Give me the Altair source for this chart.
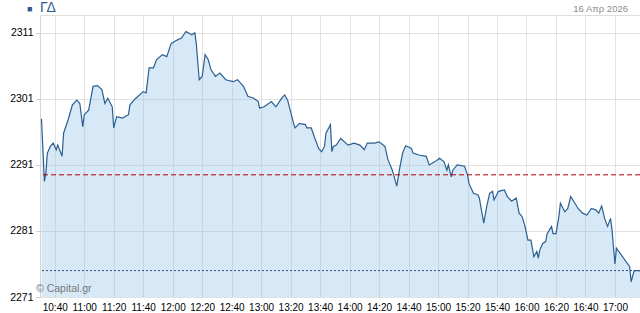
import altair as alt
import pandas as pd

times = ["10:31","10:33","10:34","10:35","10:37","10:39","10:41","10:42","10:45","10:46",
         "10:49","10:52","10:55","10:57","10:59","11:00","11:03","11:06","11:09","11:12",
         "11:14","11:16","11:19","11:20","11:22","11:26","11:30","11:31","11:35","11:40",
         "11:42","11:44","11:47","11:49","11:53","11:56","11:59","12:03","12:06","12:09",
         "12:13","12:15","12:16","12:18","12:20","12:22","12:24","12:26","12:29","12:32",
         "12:36","12:41","12:44","12:48","12:51","12:55","12:58","12:59","13:02","13:07",
         "13:10","13:14","13:16","13:18","13:22","13:23","13:26","13:30","13:31","13:34",
         "13:36","13:39","13:41","13:43","13:44","13:47","13:48","13:49","13:51","13:54",
         "13:59","14:03","14:07","14:10","14:12","14:17","14:20","14:24","14:26","14:29",
         "14:32","14:34","14:36","14:38","14:42","14:43","14:47","14:52","14:54","14:58",
         "15:01","15:04","15:06","15:07","15:09","15:10","15:13","15:18","15:20","15:21",
         "15:24","15:27","15:28","15:31","15:33","15:35","15:37","15:38","15:41","15:45",
         "15:47","15:50","15:53","15:55","15:57","15:59","16:01","16:03","16:05","16:07",
         "16:08","16:09","16:11","16:13","16:14","16:17","16:18","16:20","16:22","16:23",
         "16:26","16:28","16:30","16:32","16:35","16:38","16:41","16:44","16:47","16:49",
         "16:51","16:53","16:55","16:57","16:58","17:00","17:01","17:10","17:11","17:13",
         "17:17"]
values = [2298.0,2288.5,2289.8,2292.8,2293.8,2294.3,2293.3,2294.0,2292.3,2295.8,
          2297.8,2300.1,2300.8,2300.3,2296.8,2298.6,2299.3,2302.9,2303.0,2302.4,
          2300.3,2301.1,2299.8,2296.6,2298.3,2298.1,2298.6,2300.1,2301.1,2302.1,
          2301.9,2305.7,2305.7,2306.9,2307.7,2307.4,2309.4,2309.9,2310.2,2311.2,
          2310.7,2311.0,2309.4,2303.9,2304.4,2307.7,2307.0,2305.4,2304.4,2304.9,
          2303.9,2303.6,2303.9,2302.9,2301.4,2301.1,2300.6,2299.6,2299.8,2300.6,
          2299.8,2301.1,2301.6,2300.8,2297.3,2296.6,2297.3,2297.1,2296.6,2296.6,
          2295.3,2293.5,2293.0,2293.8,2295.8,2297.1,2293.0,2293.8,2294.0,2295.0,
          2294.0,2294.3,2294.0,2293.3,2294.3,2294.3,2294.5,2293.8,2291.8,2290.2,
          2287.8,2290.5,2292.8,2293.9,2293.5,2292.8,2292.5,2292.3,2291.0,2291.5,
          2292.0,2291.5,2290.2,2291.0,2289.2,2290.2,2291.0,2290.8,2289.5,2288.2,
          2286.7,2286.5,2286.0,2282.2,2284.7,2286.7,2287.0,2285.7,2287.0,2287.2,
          2286.2,2285.5,2286.0,2283.7,2283.2,2281.7,2279.6,2279.6,2277.1,2277.9,
          2276.9,2278.1,2279.1,2279.4,2280.6,2281.7,2280.6,2280.6,2283.2,2285.2,
          2283.9,2284.4,2286.2,2285.5,2284.4,2283.7,2283.4,2284.4,2284.2,2283.7,
          2284.8,2282.9,2281.7,2282.9,2281.2,2276.0,2278.4,2275.6,2273.3,2275.0,
          2275.0]

prev_close = 2289.5
last_value = 2275.0
y_ticks = [2271, 2281, 2291, 2301, 2311]
x_tick_labels = ["10:40","11:00","11:20","11:40","12:00","12:20","12:40","13:00","13:20",
                 "13:40","14:00","14:20","14:40","15:00","15:20","15:40","16:00","16:20",
                 "16:40","17:00"]
title_text = "ΓΔ"
date_text = "16 Απρ 2026"
credit_text = "© Capital.gr"


def to_min(t):
    h, m = t.split(":")
    return int(h) * 60 + int(m)


df = pd.DataFrame({"t": [to_min(t) for t in times], "v": values})
x_ticks = [to_min(t) for t in x_tick_labels]

FONT = "Liberation Sans"
x_scale = alt.Scale(domain=[630, 1037], nice=False, zero=False)
y_scale = alt.Scale(domain=[2271, 2313.7], nice=False, zero=False)

label_expr = ("floor(datum.value/60) + ':' + ((datum.value % 60) < 10 ? '0' : '') + (datum.value % 60)")

x_axis = alt.Axis(values=x_ticks, labelExpr=label_expr, title=None, grid=True,
                  gridColor="#e2e2e2", ticks=False, domain=False,
                  labelFont=FONT, labelFontSize=10, labelColor="#000",
                  labelPadding=5, labelFlush=False, labelOverlap=False, labelBound=False)
y_axis = alt.Axis(values=y_ticks, format="d", title=None, grid=True,
                  gridColor="#e2e2e2",
                  tickSize=4, tickColor="#cccccc", domainColor="#d6d6d6",
                  labelFont=FONT, labelFontSize=10.5, labelColor="#000",
                  labelPadding=3, labelOverlap=False)

x_enc = alt.X("t:Q", scale=x_scale, axis=x_axis)
y_enc = alt.Y("v:Q", scale=y_scale, axis=y_axis)

area = alt.Chart(df).mark_area(color="#91c1e8", opacity=0.36, clip=True).encode(
    x=x_enc, y=y_enc, y2=alt.datum(2271))
line = alt.Chart(df).mark_line(color="#2b5f91", strokeWidth=1.2, clip=True).encode(
    x=x_enc, y=y_enc)

ref_df = pd.DataFrame({"prev": [prev_close], "last": [last_value]})
prev_rule = alt.Chart(ref_df).mark_rule(color="#b00000", strokeWidth=1, strokeDash=[5, 3]).encode(
    y=alt.Y("prev:Q", scale=y_scale, axis=y_axis))
last_rule = alt.Chart(ref_df).mark_rule(color="#2b4f7f", strokeWidth=1, strokeDash=[2, 2]).encode(
    y=alt.Y("last:Q", scale=y_scale, axis=y_axis))

lbl_df = pd.DataFrame({"title": [title_text], "date": [date_text], "credit": [credit_text],
                       "sq": ["■"]})
sq = alt.Chart(lbl_df).mark_text(font=FONT, fontSize=9, color="#2f5b8f", align="left",
                                  baseline="middle").encode(
    text="sq:N", x=alt.value(-13), y=alt.value(-6))
ttl = alt.Chart(lbl_df).mark_text(font=FONT, fontSize=14, color="#2f5b8f", align="left",
                                   baseline="middle").encode(
    text="title:N", x=alt.value(0), y=alt.value(-7))
dt = alt.Chart(lbl_df).mark_text(font=FONT, fontSize=9.5, color="#8a8a8a", align="right",
                                  baseline="middle").encode(
    text="date:N", x=alt.value(588), y=alt.value(-6))
cr = alt.Chart(lbl_df).mark_text(font=FONT, fontSize=10.5, color="#777777", align="left",
                                  baseline="middle").encode(
    text="credit:N", x=alt.value(-4), y=alt.value(274))

chart = alt.layer(area, line, prev_rule, last_rule, sq, ttl, dt, cr).properties(
    width=600, height=282,
    autosize=alt.AutoSizeParams(type="none"),
    padding={"left": 40, "top": 15, "right": 0, "bottom": 16},
).configure_view(stroke=None).configure_axis(labelOverlap=False).configure(background="white")

chart.save("out.html", embed_options={"renderer": "svg", "actions": False})
